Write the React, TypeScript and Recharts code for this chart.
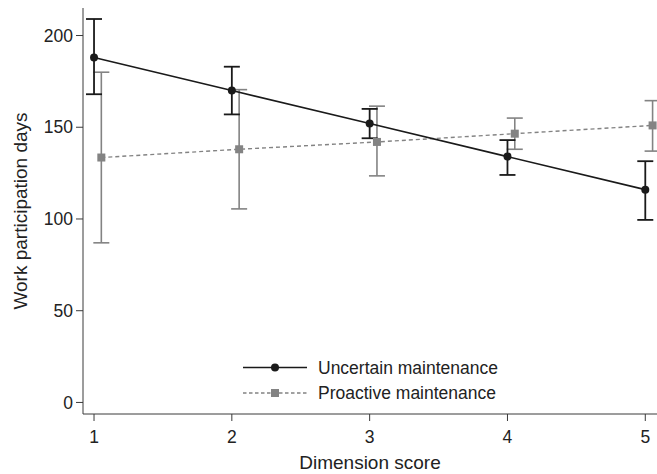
import React from "react";
import { ComposedChart, Line, ErrorBar, XAxis, YAxis, Legend, Label } from "recharts";

// dimension scores on the x axis
const scores = [1, 2, 3, 4, 5];

// uncertain maintenance: mean with 95% CI
const uncertainMean = [188, 170, 152, 134, 116];
const uncertainLower = [168, 157, 144, 124, 99.5];
const uncertainUpper = [209, 183, 160, 143, 131.5];

// proactive maintenance: mean with 95% CI
const proactiveMean = [133.5, 138, 142, 146.5, 151];
const proactiveLower = [87, 105.5, 123.5, 138, 137];
const proactiveUpper = [180, 170.5, 161.5, 155, 164.5];

const yTicks = [0, 50, 100, 150, 200];
const seriesNames = ["Uncertain maintenance", "Proactive maintenance"];

// small horizontal jitter so the two sets of whiskers don't overlap
const PROACTIVE_SHIFT = 0.053;

const FONT = "'Liberation Sans', Arial, Helvetica, sans-serif";
const DARK = "#1a1a1a";
const GREY = "#838383";
const AXIS = "#3a3a3a";

const uncertainData = scores.map((s, i) => ({
  x: s,
  y: uncertainMean[i],
  ci: [uncertainMean[i] - uncertainLower[i], uncertainUpper[i] - uncertainMean[i]]
}));

const proactiveData = scores.map((s, i) => ({
  x: s + PROACTIVE_SHIFT,
  y: proactiveMean[i],
  ci: [proactiveMean[i] - proactiveLower[i], proactiveUpper[i] - proactiveMean[i]]
}));

function SquareDot(props: any) {
  const { cx, cy, index } = props;
  if (cx == null || cy == null) return null;
  return <rect key={`sq-${index}`} x={cx - 4} y={cy - 4} width={8} height={8} fill={GREY} />;
}

function LegendBox() {
  const rows = [
    { name: seriesNames[0], color: DARK, dash: undefined, square: false },
    { name: seriesNames[1], color: GREY, dash: "3.5 2.5", square: true }
  ];
  return (
    <svg width={280} height={56} style={{ display: "block" }}>
      {rows.map((r, i) => {
        const cy = 12.5 + i * 25.5;
        return (
          <g key={r.name}>
            <line
              x1={3}
              x2={67}
              y1={cy}
              y2={cy}
              stroke={r.color}
              strokeWidth={r.square ? 1.3 : 1.6}
              strokeDasharray={r.dash}
            />
            {r.square ? (
              <rect x={31} y={cy - 4} width={8} height={8} fill={GREY} />
            ) : (
              <circle cx={35} cy={cy} r={4} fill={DARK} />
            )}
            <text
              x={78}
              y={cy}
              dominantBaseline="central"
              fontSize={17.5}
              fontFamily={FONT}
              fill="#222"
            >
              {r.name}
            </text>
          </g>
        );
      })}
    </svg>
  );
}

export default function App() {
  return (
    <div style={{ width: 657, height: 474, background: "#fff" }}>
      <style>{`body{margin:0}`}</style>
      <ComposedChart width={657} height={474} margin={{ top: 8, right: 0, bottom: 0, left: 20 }}>
        <XAxis
          type="number"
          dataKey="x"
          domain={[0.92, 5.085]}
          ticks={scores}
          allowDataOverflow
          height={60}
          tickSize={7}
          tickMargin={10}
          stroke={AXIS}
          tick={{ fill: "#222", fontSize: 17.5, fontFamily: FONT }}
        >
          <Label
            content={({ viewBox }: any) => (
              <text
                x={viewBox.x + viewBox.width / 2}
                y={469}
                textAnchor="middle"
                fontSize={19}
                fontFamily={FONT}
                fill="#222"
              >
                Dimension score
              </text>
            )}
          />
        </XAxis>
        <YAxis
          type="number"
          domain={[-6.3, 215]}
          ticks={yTicks}
          allowDataOverflow
          width={63}
          tickSize={7}
          tickMargin={3}
          stroke={AXIS}
          tick={{ fill: "#222", fontSize: 17.5, fontFamily: FONT }}
        >
          <Label
            content={({ viewBox }: any) => {
              const cy = viewBox.y + viewBox.height / 2;
              return (
                <text
                  x={20.5}
                  y={cy}
                  transform={`rotate(-90 20.5 ${cy})`}
                  textAnchor="middle"
                  dominantBaseline="central"
                  fontSize={19}
                  fontFamily={FONT}
                  fill="#222"
                >
                  Work participation days
                </text>
              );
            }}
          />
        </YAxis>
        <Legend
          layout="horizontal"
          verticalAlign="middle"
          align="center"
          content={() => <LegendBox />}
          wrapperStyle={{ position: "absolute", left: 240, top: 355, width: 280 }}
        />
        <Line
          data={proactiveData}
          dataKey="y"
          name={seriesNames[1]}
          stroke={GREY}
          strokeWidth={1.4}
          strokeDasharray="4 3"
          dot={<SquareDot />}
          activeDot={false}
          isAnimationActive={false}
        >
          <ErrorBar dataKey="ci" direction="y" width={8} stroke={GREY} strokeWidth={1.6} />
        </Line>
        <Line
          data={uncertainData}
          dataKey="y"
          name={seriesNames[0]}
          stroke={DARK}
          strokeWidth={1.6}
          dot={{ r: 4, fill: DARK, stroke: DARK, strokeWidth: 0 }}
          activeDot={false}
          isAnimationActive={false}
        >
          <ErrorBar dataKey="ci" direction="y" width={8} stroke={DARK} strokeWidth={1.8} />
        </Line>
      </ComposedChart>
    </div>
  );
}
